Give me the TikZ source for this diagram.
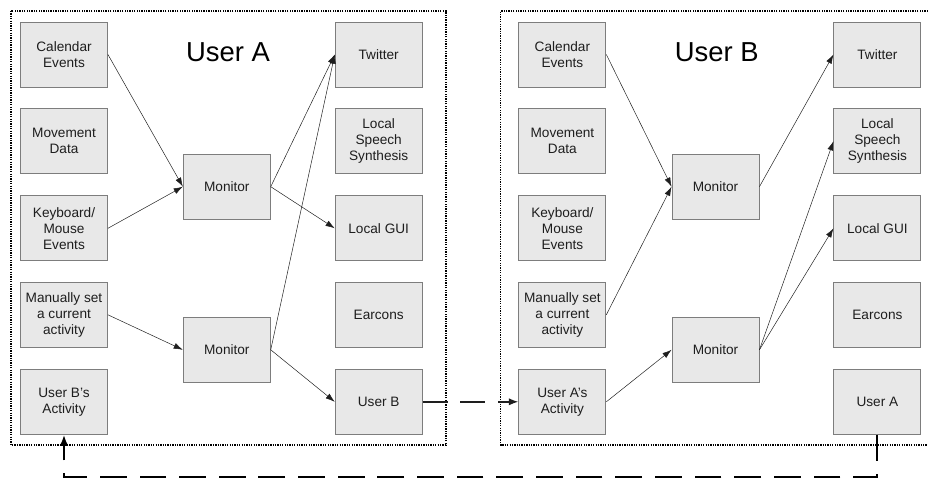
\documentclass[tikz,border=0pt]{standalone}
\usepackage{fontspec}
\setmainfont{Liberation Sans}
\usetikzlibrary{arrows.meta}
\usepackage{xcolor}
\definecolor{boxfill}{RGB}{232,232,232}
\definecolor{boxline}{RGB}{125,125,125}
\definecolor{lineblack}{RGB}{30,30,30}

\begin{document}
\begin{tikzpicture}[x=0.025cm,y=-0.025cm,font=\fontsize{9.7}{11.4}\selectfont,
  box/.style={draw=boxline,fill=boxfill,line width=0.6pt,minimum width=2.175cm,minimum height=1.625cm,inner sep=0pt,align=center,text=lineblack},
  flow/.style={-{Latex[length=2.3mm,width=1.5mm]},line width=0.35pt,draw=lineblack},
  userframe/.style={draw=black,line width=0.9pt,dash pattern=on 0.9pt off 0.8pt},
  title/.style={font=\fontsize{19.5}{23}\selectfont,text=black},
  share/.style={-{Latex[length=2.4mm,width=1.8mm]},draw=lineblack,line width=1pt,dash pattern=on 17.7pt off 9.2pt},
  loopline/.style={-{Latex[length=2.8mm,width=2.2mm]},draw=black,line width=1.5pt,dash pattern=on 19pt off 9.2pt}]
\useasboundingbox (0,0) rectangle (928,480);
% user A
\draw[userframe] (11,11) rectangle (446,445);
\node[title] (titleA) at (228,52) {User A};
\node[box] (lcal) at (64,54.5) {Calendar\\Events};
\node[box] (lmove) at (64,141.2) {Movement\\Data};
\node[box] (lkey) at (64,228.3) {Keyboard/\\Mouse\\Events};
\node[box] (lman) at (64,314.8) {Manually set\\a current\\activity};
\node[box] (lbact) at (64,401.8) {User B’s\\Activity};
\node[box] (lmon1) at (226.8,186.7) {Monitor};
\node[box] (lmon2) at (226.8,349.8) {Monitor};
\node[box] (ltw) at (378.7,54.5) {Twitter};
\node[box] (lspeech) at (378.7,141.2) {Local\\Speech\\Synthesis};
\node[box] (lgui) at (378.7,228.3) {Local GUI};
\node[box] (lear) at (378.7,314.8) {Earcons};
\node[box] (lub) at (378.7,401.8) {User B};
\draw[flow] (lcal.east) -- (lmon1.west);
\draw[flow] (lkey.east) -- (lmon1.west);
\draw[flow] (lman.east) -- (lmon2.west);
\draw[flow] (lmon1.east) -- (ltw.west);
\draw[flow] (lmon1.east) -- (lgui.west);
\draw[flow] (lmon2.east) -- (ltw.west);
\draw[flow] (lmon2.east) -- (lub.west);
% user B
\draw[userframe] (940,11) -- (500.7,11) -- (500.7,445) -- (940,445);
\node[title] (titleB) at (716.7,52) {User B};
\node[box] (rcal) at (562.4,54.5) {Calendar\\Events};
\node[box] (rmove) at (562.4,141.2) {Movement\\Data};
\node[box] (rkey) at (562.4,228.3) {Keyboard/\\Mouse\\Events};
\node[box] (rman) at (562.4,314.8) {Manually set\\a current\\activity};
\node[box] (ract) at (562.4,401.8) {User A’s\\Activity};
\node[box] (rmon1) at (715.5,186.7) {Monitor};
\node[box] (rmon2) at (715.5,349.8) {Monitor};
\node[box] (rtw) at (877.4,54.5) {Twitter};
\node[box] (rspeech) at (877.4,141.2) {Local\\Speech\\Synthesis};
\node[box] (rgui) at (877.4,228.3) {Local GUI};
\node[box] (rear) at (877.4,314.8) {Earcons};
\node[box] (rua) at (877.4,401.8) {User A};
\draw[flow] (rcal.east) -- (rmon1.west);
\draw[flow] (rman.east) -- (rmon1.west);
\draw[flow] (ract.east) -- (rmon2.west);
\draw[flow] (rmon1.east) -- (rtw.west);
\draw[flow] (rmon2.east) -- (rspeech.west);
\draw[flow] (rmon2.east) -- (rgui.west);
% between users
\draw[share] (lub.east) -- (ract.west);
\coordinate (loop) at (0,477);
\draw[loopline] (rua.south) -- (rua.south |- loop) -- (lbact.south |- loop) -- (lbact.south);
\end{tikzpicture}
\end{document}
